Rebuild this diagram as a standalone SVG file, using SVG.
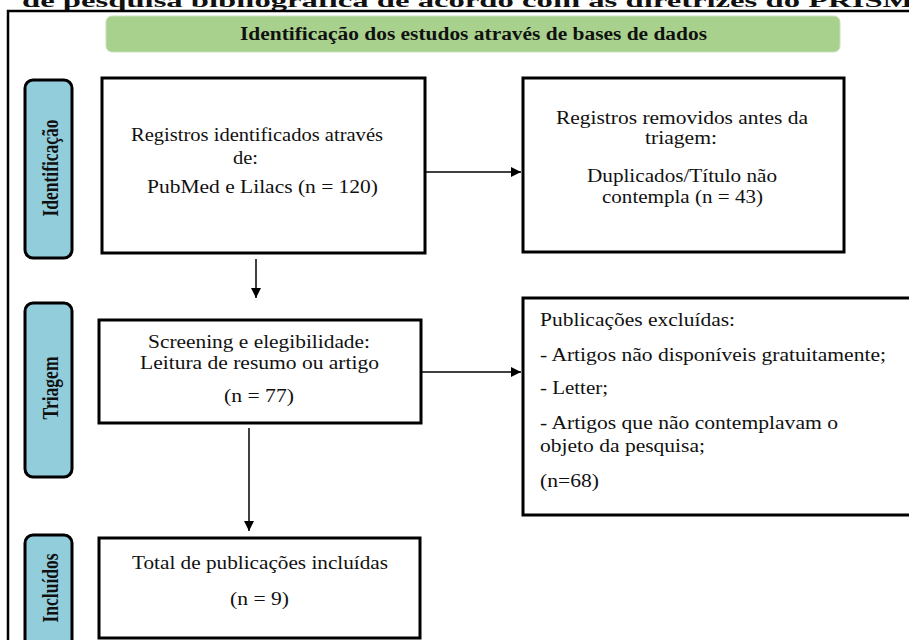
<svg xmlns="http://www.w3.org/2000/svg" width="909" height="640" viewBox="0 0 909 640">
<defs>
<style>
text{font-family:'Liberation Serif','Times New Roman',Tinos,serif;}
.t{font-size:18px;fill:#111;}
.b{font-weight:bold;}
.box{fill:#fff;stroke:#000;stroke-width:3;}
.lab{fill:#92CDDC;stroke:#000;stroke-width:3;}
.con{stroke:#000;stroke-width:1.5;fill:none;marker-end:url(#ah);}
</style>
<marker id="ah" viewBox="0 0 10 10" refX="10" refY="5" markerWidth="10" markerHeight="10" markerUnits="userSpaceOnUse" orient="auto">
<path d="M0,0 L10,5 L0,10 z" fill="#000"/>
</marker>
</defs>
<rect width="909" height="640" fill="#fff"/>
<text class="t b" x="22" y="7" font-size="26" textLength="915" lengthAdjust="spacingAndGlyphs">de pesquisa bibliográfica de acordo com as diretrizes do PRISMA</text>
<path d="M8,660 L8,11 L915,11" fill="none" stroke="#000" stroke-width="2.5"/>

<g id="banner">
<rect x="106" y="16" width="734" height="36" rx="6" fill="#A9D18E" stroke="#C9E0BA" stroke-width="1"/>
<text class="t b" x="240" y="40" font-size="16" textLength="467" lengthAdjust="spacingAndGlyphs">Identificação dos estudos através de bases de dados</text>
</g>

<g id="lab-identificacao">
<rect class="lab" x="25" y="80" width="47" height="178" rx="8"/>
<text class="t b" font-size="17" text-anchor="middle" transform="translate(58,168) scale(1.3,1) rotate(-90)" textLength="97" lengthAdjust="spacingAndGlyphs">Identificação</text>
</g>
<g id="lab-triagem">
<rect class="lab" x="25" y="303" width="47" height="174" rx="8"/>
<text class="t b" font-size="17" text-anchor="middle" transform="translate(58,388) scale(1.3,1) rotate(-90)" textLength="63" lengthAdjust="spacingAndGlyphs">Triagem</text>
</g>
<g id="lab-incluidos">
<rect class="lab" x="25" y="535" width="47" height="130" rx="8"/>
<text class="t b" font-size="17" text-anchor="middle" transform="translate(58,588) scale(1.3,1) rotate(-90)" textLength="69" lengthAdjust="spacingAndGlyphs">Incluídos</text>
</g>

<g id="box-registros">
<rect class="box" x="102" y="78" width="323" height="175"/>
<text class="t" x="131" y="141" textLength="252" lengthAdjust="spacingAndGlyphs">Registros identificados através</text>
<text class="t" x="233" y="164" textLength="25" lengthAdjust="spacingAndGlyphs">de:</text>
<text class="t" x="147" y="193" textLength="231" lengthAdjust="spacingAndGlyphs">PubMed e Lilacs (n = 120)</text>
</g>

<g id="box-removidos">
<rect class="box" x="523" y="78" width="321" height="174"/>
<text class="t" x="556" y="124" textLength="252" lengthAdjust="spacingAndGlyphs">Registros removidos antes da</text>
<text class="t" x="645" y="144" textLength="72" lengthAdjust="spacingAndGlyphs">triagem:</text>
<text class="t" x="587" y="182" textLength="190" lengthAdjust="spacingAndGlyphs">Duplicados/Título não</text>
<text class="t" x="602" y="203" textLength="161" lengthAdjust="spacingAndGlyphs">contempla (n = 43)</text>
</g>

<g id="box-screening">
<rect class="box" x="99" y="320" width="322" height="103"/>
<text class="t" x="148" y="348" textLength="222" lengthAdjust="spacingAndGlyphs">Screening e elegibilidade:</text>
<text class="t" x="140" y="369" textLength="239" lengthAdjust="spacingAndGlyphs">Leitura de resumo ou artigo</text>
<text class="t" x="224" y="402" textLength="70" lengthAdjust="spacingAndGlyphs">(n = 77)</text>
</g>

<g id="box-excluidas">
<rect class="box" x="523" y="298" width="400" height="217"/>
<text class="t" x="540" y="326" textLength="195" lengthAdjust="spacingAndGlyphs">Publicações excluídas:</text>
<text class="t" x="540" y="361" textLength="346" lengthAdjust="spacingAndGlyphs">- Artigos não disponíveis gratuitamente;</text>
<text class="t" x="540" y="394" textLength="68" lengthAdjust="spacingAndGlyphs">- Letter;</text>
<text class="t" x="540" y="429" textLength="298" lengthAdjust="spacingAndGlyphs">- Artigos que não contemplavam o</text>
<text class="t" x="540" y="452" textLength="165" lengthAdjust="spacingAndGlyphs">objeto da pesquisa;</text>
<text class="t" x="540" y="487" textLength="59" lengthAdjust="spacingAndGlyphs">(n=68)</text>
</g>

<g id="box-total">
<rect class="box" x="99" y="538" width="321" height="100"/>
<text class="t" x="132" y="569" textLength="256" lengthAdjust="spacingAndGlyphs">Total de publicações incluídas</text>
<text class="t" x="230" y="605" textLength="59" lengthAdjust="spacingAndGlyphs">(n = 9)</text>
</g>

<g id="connectors">
<line class="con" x1="426" y1="172" x2="521" y2="172"/>
<line class="con" x1="256" y1="259" x2="256" y2="298"/>
<line class="con" x1="422" y1="372" x2="521" y2="372"/>
<line class="con" x1="249" y1="428" x2="249" y2="531"/>
</g>
</svg>
